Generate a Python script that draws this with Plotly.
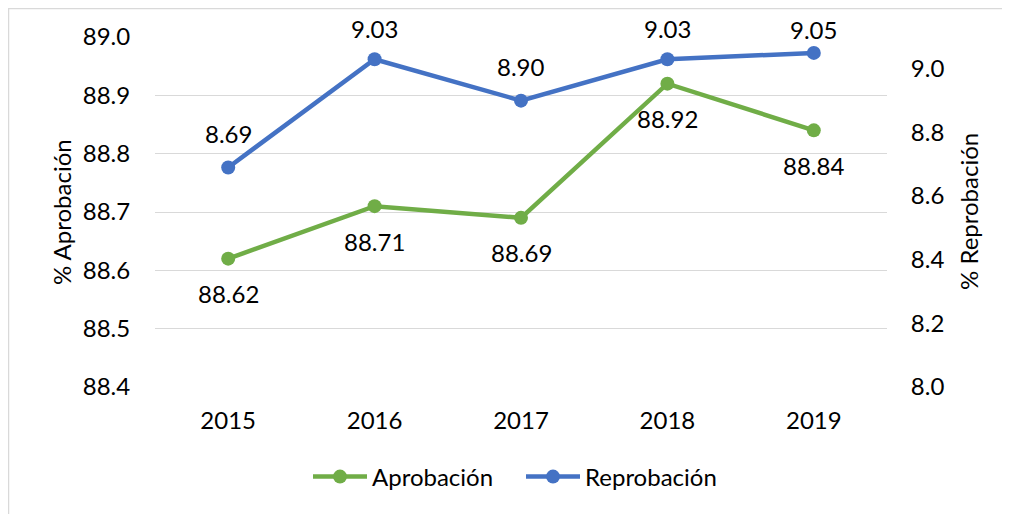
import plotly.graph_objects as go

years = ["2015", "2016", "2017", "2018", "2019"]
aprobacion = [88.62, 88.71, 88.69, 88.92, 88.84]
reprobacion = [8.69, 9.03, 8.90, 9.03, 9.05]
apro_labels = ["88.62", "88.71", "88.69", "88.92", "88.84"]
repro_labels = ["8.69", "9.03", "8.90", "9.03", "9.05"]

GREEN = "#70AD47"
BLUE = "#4472C4"
FONT = "Lato, Carlito, 'Open Sans', sans-serif"
FS = 24

# the page body has an 8px margin, so the figure is drawn offset by (8, 8)
OFF = 8
W, H = 1010, 514
L, T = 155 - OFF, 37 - OFF
pw, ph = 732, 350
R = W - L - pw
B = H - T - ph
Y1 = (88.4, 89.0)
Y2 = (8.0, 9.1)


def px(x):  # screen pixel -> paper x
    return (x - OFF - L) / pw


def py(y):  # screen pixel -> paper y
    return (T + ph - (y - OFF)) / ph


fig = go.Figure()
fig.add_trace(go.Scatter(
    x=years, y=aprobacion, name="Aprobación", mode="lines+markers",
    line=dict(color=GREEN, width=4.5), marker=dict(color=GREEN, size=14),
    cliponaxis=False, yaxis="y",
))
fig.add_trace(go.Scatter(
    x=years, y=reprobacion, name="Reprobación", mode="lines+markers",
    line=dict(color=BLUE, width=4.5), marker=dict(color=BLUE, size=14),
    cliponaxis=False, yaxis="y2",
))

annotations = []
for i, (yv, lab) in enumerate(zip(aprobacion, apro_labels)):
    annotations.append(dict(x=i, y=yv, xref="x", yref="y", text=lab, showarrow=False,
                            yshift=-35, font=dict(size=FS, color="#000000")))
for i, (yv, lab) in enumerate(zip(reprobacion, repro_labels)):
    # keep the label inside the chart area like Excel does
    ypix = 37 + ph * (Y2[1] - yv) / (Y2[1] - Y2[0])
    shift = min(34, ypix - 29)
    annotations.append(dict(x=i, y=yv, xref="x", yref="y2", text=lab, showarrow=False,
                            yshift=shift, font=dict(size=FS, color="#000000")))

annotations.append(dict(x=px(61), y=0.5, xref="paper", yref="paper", text="% Aprobación",
                        textangle=-90, showarrow=False, font=dict(size=FS, color="#000000"),
                        xanchor="center", yanchor="middle"))
annotations.append(dict(x=px(968), y=0.5, xref="paper", yref="paper", text="% Reprobación",
                        textangle=-90, showarrow=False, font=dict(size=FS, color="#000000"),
                        xanchor="center", yanchor="middle"))

fig.update_layout(
    width=W, height=H,
    margin=dict(l=L, r=R, t=T, b=B, autoexpand=False),
    paper_bgcolor="white", plot_bgcolor="white",
    font=dict(family=FONT, size=FS, color="#000000"),
    showlegend=True,
    legend=dict(orientation="h", x=0.5, xanchor="center", y=py(477), yanchor="middle",
                font=dict(size=FS), itemwidth=54, entrywidth=144, entrywidthmode="pixels",
                traceorder="normal"),
    xaxis=dict(type="category", range=[-0.5, 4.5], showgrid=False, showline=False,
               zeroline=False, ticks="outside", ticklen=12, tickcolor="rgba(0,0,0,0)",
               tickfont=dict(size=FS), automargin=False),
    yaxis=dict(range=list(Y1), dtick=0.1, tickformat=".1f", showgrid=True,
               gridcolor="#D9D9D9", gridwidth=1.3, zeroline=False, showline=False,
               ticks="outside", ticklen=19, tickcolor="rgba(0,0,0,0)",
               tickfont=dict(size=FS), automargin=False),
    yaxis2=dict(range=list(Y2), tick0=8.0, dtick=0.2, tickformat=".1f", overlaying="y",
                side="right", showgrid=False, zeroline=False, showline=False,
                ticks="outside", ticklen=18, tickcolor="rgba(0,0,0,0)",
                tickfont=dict(size=FS), automargin=False),
    annotations=annotations,
    shapes=[dict(type="rect", xref="paper", yref="paper",
                 x0=px(8.5), x1=px(1030), y0=py(530), y1=py(8.5),
                 line=dict(color="#D9D9D9", width=1.5), fillcolor="rgba(0,0,0,0)",
                 layer="below")],
)

fig.write_html("out.html")
